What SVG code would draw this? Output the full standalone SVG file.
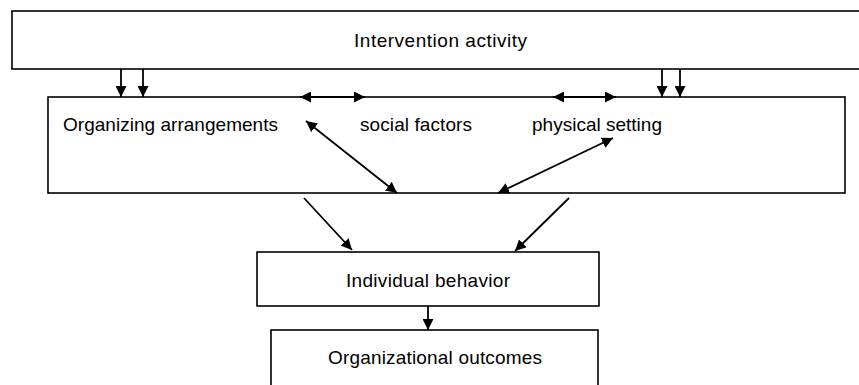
<svg xmlns="http://www.w3.org/2000/svg" width="859" height="385" viewBox="0 0 859 385">
<style>
.box{fill:#fff;stroke:#000;stroke-width:1.6}
.t{font-family:"Liberation Sans",Arial,sans-serif;font-size:19px;fill:#000}
.c{stroke:#000;stroke-width:1.8;fill:none}
</style>
<defs>
<marker id="ah" viewBox="0 0 11 11" refX="11" refY="5.5" markerWidth="11" markerHeight="11" markerUnits="userSpaceOnUse" orient="auto-start-reverse">
<path d="M0,0 L11,5.5 L0,11 z" fill="#000"/>
</marker>
</defs>
<rect width="859" height="385" fill="#fff"/>
<g id="intervention">
<rect class="box" x="12" y="11" width="852" height="58"/>
<text class="t" x="354" y="47" textLength="173" lengthAdjust="spacing">Intervention activity</text>
</g>
<g id="organizing">
<rect class="box" x="48" y="97" width="797" height="96"/>
<text class="t" x="63" y="131" textLength="215" lengthAdjust="spacing">Organizing arrangements</text>
</g>
<g id="social">
<text class="t" x="360" y="131" textLength="112" lengthAdjust="spacing">social factors</text>
</g>
<g id="physical">
<text class="t" x="532" y="131" textLength="130" lengthAdjust="spacing">physical setting</text>
</g>
<g id="individual">
<rect class="box" x="257" y="252" width="342" height="54"/>
<text class="t" x="428" y="287" text-anchor="middle" textLength="164" lengthAdjust="spacing">Individual behavior</text>
</g>
<g id="outcomes">
<rect class="box" x="271" y="330" width="327" height="70"/>
<text class="t" x="435" y="364" text-anchor="middle" textLength="214" lengthAdjust="spacing">Organizational outcomes</text>
</g>
<g id="connectors">
<line class="c" x1="121" y1="69" x2="121" y2="97" marker-end="url(#ah)"/>
<line class="c" x1="143" y1="69" x2="143" y2="97" marker-end="url(#ah)"/>
<line class="c" x1="662" y1="69" x2="662" y2="97" marker-end="url(#ah)"/>
<line class="c" x1="680" y1="69" x2="680" y2="97" marker-end="url(#ah)"/>
<line class="c" x1="300" y1="97" x2="365" y2="97" marker-start="url(#ah)" marker-end="url(#ah)"/>
<line class="c" x1="553" y1="97" x2="616" y2="97" marker-start="url(#ah)" marker-end="url(#ah)"/>
<line class="c" x1="306" y1="121" x2="397" y2="193" marker-start="url(#ah)" marker-end="url(#ah)"/>
<line class="c" x1="613" y1="138" x2="498" y2="193" marker-start="url(#ah)" marker-end="url(#ah)"/>
<line class="c" x1="304" y1="198" x2="352" y2="250" marker-end="url(#ah)"/>
<line class="c" x1="569" y1="198" x2="515" y2="251" marker-end="url(#ah)"/>
<line class="c" x1="428" y1="306" x2="428" y2="330" marker-end="url(#ah)"/>
</g>
</svg>
